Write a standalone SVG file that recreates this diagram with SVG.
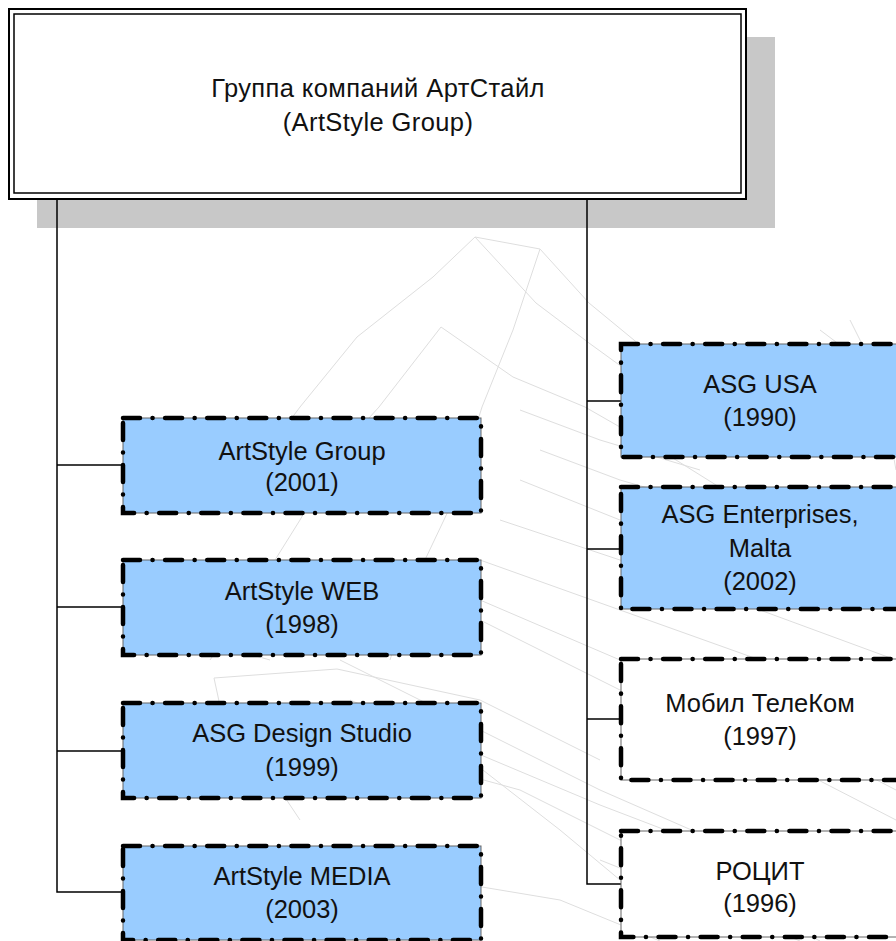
<svg xmlns="http://www.w3.org/2000/svg" width="896" height="941" viewBox="0 0 896 941">
<style>
.wm{fill:none;stroke:#dedede;stroke-width:1}
.conn{fill:none;stroke:#000;stroke-width:1.5}
.thin{fill:none;stroke:#666;stroke-width:1}
.dd{fill:none;stroke:#000;stroke-width:4.5;stroke-linecap:round;stroke-dasharray:17 12.5 0.1 12.5}
.blue{fill:#99CCFF}
.white{fill:#FFFFFF}
text{font-family:"Liberation Sans",Arial,sans-serif;font-size:25.5px;fill:#111;text-anchor:middle}
.top{letter-spacing:0.4px}
</style>
<rect width="896" height="941" fill="#fff"/>
<g id="watermark">
<polyline class="wm" points="475,237 540,249"/>
<polyline class="wm" points="475,237 433,277 357,337 300,407 268,450 230,500"/>
<polyline class="wm" points="540,249 513,330 482,407 452,503 414,583 390,660"/>
<polyline class="wm" points="475,237 536,303 589,343 640,380 700,420"/>
<polyline class="wm" points="540,249 589,303 640,345 720,400 800,440"/>
<polyline class="wm" points="441,327 379,407 337,453 300,520 250,600 210,660"/>
<polyline class="wm" points="441,327 513,377 585,407 660,450 740,500 830,540"/>
<polyline class="wm" points="165,570 230,600 350,620 470,650"/>
<polyline class="wm" points="214,678 222,715 260,760 300,820"/>
<polyline class="wm" points="214,678 337,669 480,700 600,760"/>
<polyline class="wm" points="340,660 600,790 760,860 896,900"/>
<polyline class="wm" points="350,700 600,805 770,870 896,920"/>
<polyline class="wm" points="320,735 520,790 700,880 820,941"/>
<polyline class="wm" points="480,600 620,660 760,720 896,790"/>
<polyline class="wm" points="480,620 620,690 760,750 896,820"/>
<polyline class="wm" points="480,560 620,610 760,660 896,720"/>
<polyline class="wm" points="500,520 620,560 760,610 896,660"/>
<polyline class="wm" points="520,480 620,520 760,570 896,610"/>
<polyline class="wm" points="540,450 620,480 760,520 896,560"/>
<polyline class="wm" points="520,410 600,440 700,470"/>
<polyline class="wm" points="470,760 560,830 620,880"/>
<polyline class="wm" points="600,860 700,900 800,941"/>
<polyline class="wm" points="440,880 560,900 660,941"/>
<polyline class="wm" points="820,330 860,360 896,400"/>
<polyline class="wm" points="850,320 880,380 896,470"/>
<polyline class="wm" points="130,620 200,640 270,660"/>
<polyline class="wm" points="200,850 260,880 330,941"/>
</g>
<rect id="root-shadow" x="37" y="37" width="738" height="191" fill="#c8c8c8"/>
<g id="connectors">
<polyline class="conn" points="57,199 57,892 123,892"/>
<line class="conn" x1="57" y1="465" x2="123" y2="465"/>
<line class="conn" x1="57" y1="607" x2="123" y2="607"/>
<line class="conn" x1="57" y1="751" x2="123" y2="751"/>
<polyline class="conn" points="587,199 587,884 621,884"/>
<line class="conn" x1="587" y1="401" x2="621" y2="401"/>
<line class="conn" x1="587" y1="549" x2="621" y2="549"/>
<line class="conn" x1="587" y1="719" x2="621" y2="719"/>
</g>
<g id="root">
<rect x="9" y="9" width="737" height="190" fill="#fff" stroke="#000" stroke-width="2"/>
<rect x="14" y="14" width="727" height="179" fill="none" stroke="#000" stroke-width="1.5"/>
<text class="top" x="378" y="97">Группа компаний АртСтайл</text>
<text class="top" x="378" y="131">(ArtStyle Group)</text>
</g>
<g id="n-artstyle-group">
<rect class="blue" x="123" y="418" width="358" height="95"/>
<rect class="thin" x="123" y="418" width="358" height="95"/>
<rect class="dd" x="123" y="418" width="358" height="95"/>
<text x="302" y="460">ArtStyle Group</text>
<text x="302" y="491">(2001)</text>
</g>
<g id="n-artstyle-web">
<rect class="blue" x="123" y="560" width="358" height="95"/>
<rect class="thin" x="123" y="560" width="358" height="95"/>
<rect class="dd" x="123" y="560" width="358" height="95"/>
<text x="302" y="600">ArtStyle WEB</text>
<text x="302" y="633">(1998)</text>
</g>
<g id="n-asg-design">
<rect class="blue" x="123" y="703" width="358" height="95"/>
<rect class="thin" x="123" y="703" width="358" height="95"/>
<rect class="dd" x="123" y="703" width="358" height="95"/>
<text x="302" y="742">ASG Design Studio</text>
<text x="302" y="776">(1999)</text>
</g>
<g id="n-artstyle-media">
<rect class="blue" x="123" y="846" width="358" height="94"/>
<rect class="thin" x="123" y="846" width="358" height="94"/>
<rect class="dd" x="123" y="846" width="358" height="94"/>
<text x="302" y="885">ArtStyle MEDIA</text>
<text x="302" y="918">(2003)</text>
</g>
<g id="n-asg-usa">
<rect class="blue" x="621" y="344" width="290" height="113"/>
<rect class="thin" x="621" y="344" width="290" height="113"/>
<rect class="dd" x="621" y="344" width="290" height="113"/>
<text x="760" y="393">ASG USA</text>
<text x="760" y="426">(1990)</text>
</g>
<g id="n-asg-malta">
<rect class="blue" x="621" y="487" width="290" height="122"/>
<rect class="thin" x="621" y="487" width="290" height="122"/>
<rect class="dd" x="621" y="487" width="290" height="122"/>
<text x="760" y="523">ASG Enterprises,</text>
<text x="760" y="557">Malta</text>
<text x="760" y="590">(2002)</text>
</g>
<g id="n-mobil">
<rect class="white" x="621" y="659" width="290" height="121"/>
<rect class="thin" x="621" y="659" width="290" height="121"/>
<rect class="dd" x="621" y="659" width="290" height="121"/>
<text x="760" y="712">Мобил ТелеКом</text>
<text x="760" y="745">(1997)</text>
</g>
<g id="n-rocit">
<rect class="white" x="621" y="831" width="290" height="106"/>
<rect class="thin" x="621" y="831" width="290" height="106"/>
<rect class="dd" x="621" y="831" width="290" height="106"/>
<text x="760" y="880">РОЦИТ</text>
<text x="760" y="912">(1996)</text>
</g>
</svg>
